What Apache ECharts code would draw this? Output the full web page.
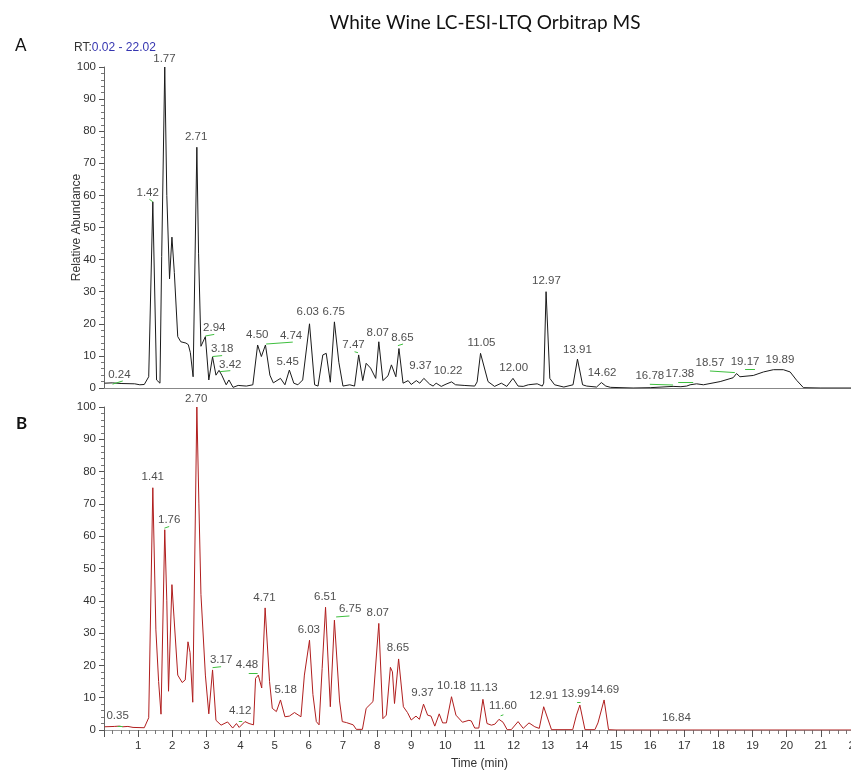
<!DOCTYPE html>
<html>
<head>
<meta charset="utf-8">
<title>White Wine LC-ESI-LTQ Orbitrap MS</title>
<script src="https://cdn.jsdelivr.net/npm/echarts@6/dist/echarts.min.js"></script>
<style>
  html, body { margin: 0; padding: 0; background: #fff; }
  #main { width: 851px; height: 771px; }
</style>
</head>
<body>
<div id="main"></div>
<script>
// chromatogram A (black trace): retention time (min) and relative abundance (%)
var timeA = [0.02, 0.24, 0.50, 0.90, 1.05, 1.18, 1.31, 1.43, 1.54, 1.64, 1.69, 1.78, 1.84, 1.92, 1.99, 2.06,
  2.16, 2.25, 2.40, 2.47, 2.53, 2.61, 2.72, 2.77, 2.84, 2.97, 3.07, 3.18, 3.28, 3.37, 3.45, 3.58, 3.66, 3.78,
  3.93, 4.17, 4.36, 4.50, 4.61, 4.73, 4.86, 4.96, 5.17, 5.30, 5.43, 5.56, 5.68, 5.82, 6.02, 6.17, 6.27, 6.41,
  6.51, 6.63, 6.75, 6.88, 7.00, 7.20, 7.34, 7.46, 7.58, 7.68, 7.81, 7.96, 8.05, 8.17, 8.32, 8.42, 8.55, 8.64,
  8.76, 8.91, 9.00, 9.15, 9.25, 9.37, 9.54, 9.64, 9.73, 9.88, 10.02, 10.18, 10.30, 10.55, 10.86, 10.93, 11.03,
  11.25, 11.44, 11.64, 11.80, 11.98, 12.13, 12.28, 12.43, 12.69, 12.84, 12.88, 12.95, 13.06, 13.20, 13.47,
  13.74, 13.87, 14.02, 14.14, 14.43, 14.57, 14.70, 14.84, 15.50, 16.00, 16.67, 16.90, 17.07, 17.17, 17.36,
  17.56, 18.05, 18.43, 18.53, 18.63, 19.02, 19.32, 19.61, 19.90, 20.10, 20.29, 20.49, 21.00, 22.00];
var valueA = [1.5, 1.6, 1.4, 1.3, 1.0, 1.1, 3.5, 58, 2.5, 1.5, 41, 100, 60, 34, 47, 36,
  16, 14.4, 14, 13.5, 11, 3.5, 75, 42, 13, 16, 2.5, 9.7, 4, 5.5, 4, 1, 2.5, 0.2,
  0.8, 0.6, 1, 13.4, 9.8, 13.4, 4, 1.6, 3, 1, 5.6, 1.5, 1, 2.5, 20, 1, 0.6, 10.3,
  10.8, 1.8, 20.6, 8, 0.6, 1, 0.6, 10.3, 2.3, 7.7, 6.2, 3, 14.4, 2.3, 3.8, 7.2, 3.5, 12.3,
  1.5, 2.3, 1.1, 2.3, 1.5, 3, 1.2, 0.6, 1.5, 0.5, 1.2, 1.9, 1, 0.8, 0.6, 1.9, 10.8,
  2, 0.5, 1.5, 0.5, 3, 0.6, 0.5, 1, 1.3, 0.6, 1.5, 30, 3, 1, 0.3,
  1, 9, 1, 0.6, 0.3, 1.7, 0.6, 0.2, 0, 0.1, 0.5, 0.4, 0.6, 1, 1.3,
  1, 2, 3.2, 4.5, 3.5, 3.9, 5, 5.7, 5.7, 5, 2.4, 0.1, 0, 0];

// chromatogram B (red trace)
var timeB = [0.02, 0.30, 0.45, 0.55, 0.70, 0.85, 1.18, 1.31, 1.43, 1.52, 1.60, 1.67, 1.78, 1.84, 1.89, 1.99,
  2.05, 2.16, 2.29, 2.38, 2.46, 2.52, 2.60, 2.72, 2.78, 2.84, 2.97, 3.07, 3.18, 3.28, 3.43, 3.62, 3.77, 3.88,
  3.96, 4.13, 4.25, 4.38, 4.44, 4.52, 4.62, 4.72, 4.85, 4.93, 5.05, 5.17, 5.30, 5.43, 5.58, 5.77, 5.87, 6.02,
  6.12, 6.22, 6.30, 6.39, 6.49, 6.63, 6.75, 6.90, 6.98, 7.10, 7.30, 7.39, 7.57, 7.68, 7.88, 8.05, 8.17, 8.27,
  8.39, 8.45, 8.51, 8.63, 8.77, 8.89, 9.00, 9.14, 9.24, 9.36, 9.48, 9.58, 9.69, 9.82, 9.92, 10.03, 10.18,
  10.31, 10.50, 10.69, 10.76, 10.86, 10.98, 11.10, 11.22, 11.35, 11.45, 11.57, 11.69, 11.81, 11.93, 12.13,
  12.28, 12.45, 12.62, 12.75, 12.88, 13.11, 13.73, 13.84, 13.94, 14.09, 14.38, 14.47, 14.65, 14.78, 15.00, 22.00];
var valueB = [1.0, 1.1, 1.2, 1.0, 1.1, 0.8, 0.7, 3.8, 75, 31, 15, 4.9, 62, 40, 12, 45,
  35, 17, 14.7, 15.5, 27.3, 24, 8.6, 100, 70, 42, 17, 5, 18.6, 3, 1.5, 2.5, 0.6, 2,
  0.8, 2.6, 2, 1.6, 16, 17, 13, 37.8, 15, 6.7, 5.7, 9.3, 4.1, 4.3, 5.4, 4.1, 17, 27.8,
  11, 2.6, 1.6, 19, 38, 7.2, 34, 9, 2.6, 2.3, 1.6, 0.2, 0.2, 6.7, 8.8, 33, 3.5, 4.6,
  19.4, 18, 8.2, 22, 7.2, 5.4, 3.1, 4.3, 3.3, 8, 4.6, 4.3, 1.2, 5, 2.2, 2.2, 10.3,
  4.6, 2.4, 3, 2.8, 0.6, 0.6, 9.5, 2, 1.5, 1.8, 3.3, 2.4, 0.1, 0.1, 2.6,
  0.5, 2.2, 1, 0.5, 7.2, 0.1, 0.1, 4.6, 7.7, 0.1, 0.1, 2.2, 9.3, 0.1, 0, 0];

// peak labels: text and the point (time, abundance) the label sits on
var peakTextA = ['0.24', '1.42', '1.77', '2.71', '2.94', '3.18', '3.42', '4.50', '4.74', '5.45', '6.03', '6.75',
  '7.47', '8.07', '8.65', '9.37', '10.22', '11.05', '12.00', '12.97', '13.91', '14.62', '16.78', '17.38',
  '18.57', '19.17', '19.89'];
var labelXA = [0.45, 1.28, 1.77, 2.70, 3.23, 3.46, 3.70, 4.49, 5.48, 5.38, 5.97, 6.73,
  7.31, 8.02, 8.74, 9.27, 10.08, 11.06, 12.00, 12.96, 13.87, 14.59, 15.99, 16.87, 17.75, 18.78, 19.80];
var labelYA = [2, 58.5, 100.5, 76, 16.5, 10, 5, 14.4, 14.1, 6.1, 21.4, 21.7,
  11.3, 15, 13.4, 4.6, 3.3, 12, 4, 31.2, 9.8, 2.7, 1.5, 2.2, 5.6, 6.1, 6.6];

var peakTextB = ['0.35', '1.41', '1.76', '2.70', '3.17', '4.12', '4.48', '4.71', '5.18', '6.03', '6.51', '6.75',
  '8.07', '8.65', '9.37', '10.18', '11.13', '11.60', '12.91', '13.99', '14.69', '16.84'];
var labelXB = [0.40, 1.43, 1.91, 2.70, 3.43, 3.99, 4.19, 4.70, 5.32, 6.00, 6.48, 7.21,
  8.02, 8.61, 9.33, 10.18, 11.12, 11.69, 12.88, 13.82, 14.67, 16.77];
var labelYB = [2.1, 76.1, 62.9, 100.5, 19.6, 3.9, 18, 38.7, 10.3, 28.9, 39.2, 35.3,
  34.2, 23.2, 9.3, 11.5, 10.8, 5.2, 8.5, 9, 10.3, 1.5];

// green leader lines from a peak to its shifted label: [t1, v1, t2, v2]
var leaderA = [[0.25, 1.2, 0.55, 2.2], [1.33, 58.8, 1.43, 58], [2.97, 16.2, 3.23, 16.7], [3.18, 9.8, 3.46, 10.1],
  [3.40, 5.1, 3.70, 5.4], [4.75, 13.7, 5.53, 14.3], [7.34, 11.3, 7.44, 11], [8.61, 13.2, 8.76, 13.7],
  [15.99, 1.15, 16.67, 0.93], [16.82, 1.8, 17.26, 1.8], [17.75, 5.3, 18.48, 4.8], [18.78, 5.8, 19.07, 5.8]];
var leaderB = [[0.40, 1.3, 0.55, 1.3], [1.77, 62.5, 1.91, 63], [3.18, 19.3, 3.43, 19.6], [3.95, 2.7, 4.05, 2.7],
  [4.24, 17.7, 4.50, 17.7], [6.80, 35, 7.19, 35.3], [11.62, 4.4, 11.70, 4.7], [13.86, 8.6, 13.96, 8.6]];

var labelFont = '"Liberation Sans", Arial, sans-serif';

function pairs(xs, ys) {
  var out = [];
  for (var i = 0; i < xs.length; i++) out.push([xs[i], ys[i]]);
  return out;
}
function labelData(texts, xs, ys) {
  var out = [];
  for (var i = 0; i < texts.length; i++) out.push([xs[i], ys[i], texts[i]]);
  return out;
}
function leaderData(list) {
  return list.map(function (l) {
    return [{ coord: [l[0], l[1]] }, { coord: [l[2], l[3]] }];
  });
}

function yAxisFor(idx, name) {
  return {
    type: 'value', gridIndex: idx, min: 0, max: 100, interval: 10,
    name: name, nameLocation: 'middle', nameGap: 21, nameMoveOverlap: false,
    nameTextStyle: { fontFamily: labelFont, fontSize: 12, color: '#333' },
    axisLine: { show: true, lineStyle: { color: '#666', width: 1 } },
    axisTick: { show: true, length: 5, lineStyle: { color: '#555' } },
    minorTick: { show: true, splitNumber: 5, length: 3, lineStyle: { color: '#777' } },
    axisLabel: { fontFamily: labelFont, fontSize: 11.5, color: '#333', margin: 8 },
    splitLine: { show: false }
  };
}

function labelSeries(idx, texts, xs, ys, leaders) {
  return {
    type: 'scatter', xAxisIndex: idx, yAxisIndex: idx,
    symbolSize: 0, silent: true, z: 5, clip: false,
    data: labelData(texts, xs, ys),
    label: {
      show: true, position: 'top', distance: 1,
      formatter: function (p) { return p.value[2]; },
      fontFamily: labelFont, fontSize: 11.5, color: '#222'
    },
    markLine: {
      silent: true, symbol: 'none', animation: false,
      label: { show: false },
      lineStyle: { color: '#3fbf3f', width: 1, type: 'solid' },
      data: leaderData(leaders)
    }
  };
}

var chart = echarts.init(document.getElementById('main'), null, { renderer: 'canvas' });
chart.setOption({
  animation: false,
  backgroundColor: '#fff',
  title: [{
    text: 'White Wine LC-ESI-LTQ Orbitrap MS',
    left: 480, top: 8, textAlign: 'center',
    textStyle: { fontFamily: 'Lato, "Open Sans", sans-serif', fontSize: 19, fontWeight: 'normal', color: '#111' }
  }, {
    text: '{k|RT:}{v|0.02 - 22.02}',
    left: 69, top: 37,
    textStyle: {
      fontWeight: 'normal',
      rich: {
        k: { fontFamily: labelFont, fontSize: 12, fontWeight: 'normal', color: '#333' },
        v: { fontFamily: labelFont, fontSize: 12, fontWeight: 'normal', color: '#3535b0' }
      }
    }
  }],
  graphic: [
    { type: 'text', left: 15, top: 37, style: { text: 'A', font: '17px Lato, sans-serif', fill: '#111' } },
    { type: 'text', left: 16, top: 415, style: { text: 'B', font: 'bold 17px Lato, sans-serif', fill: '#111' } }
  ],
  grid: [
    { left: 104, right: -4, top: 67, bottom: 383, outerBoundsMode: 'none', containLabel: false },
    { left: 104, right: -4, top: 407, bottom: 41, outerBoundsMode: 'none', containLabel: false }
  ],
  xAxis: [{
    type: 'value', gridIndex: 0, min: 0, max: 22, interval: 1,
    axisLine: { show: true, onZero: false, lineStyle: { color: '#888', width: 1 } },
    axisTick: { show: false }, axisLabel: { show: false }, splitLine: { show: false }
  }, {
    type: 'value', gridIndex: 1, min: 0, max: 22, interval: 1,
    name: 'Time (min)', nameLocation: 'middle', nameGap: 28, nameMoveOverlap: false,
    nameTextStyle: { fontFamily: labelFont, fontSize: 12, color: '#333' },
    axisLine: { show: true, onZero: false, lineStyle: { color: '#999', width: 1 } },
    axisTick: { show: true, length: 7, lineStyle: { color: '#555' } },
    minorTick: { show: true, splitNumber: 4, length: 4, lineStyle: { color: '#777' } },
    axisLabel: { showMinLabel: false, fontFamily: labelFont, fontSize: 11.5, color: '#333', margin: 10 },
    splitLine: { show: false }
  }],
  yAxis: [yAxisFor(0, 'Relative Abundance'), yAxisFor(1, '')],
  series: [{
    type: 'line', xAxisIndex: 0, yAxisIndex: 0,
    data: pairs(timeA, valueA), showSymbol: false, symbol: 'none',
    lineStyle: { color: '#1a1a1a', width: 1 }, z: 3
  }, {
    type: 'line', xAxisIndex: 1, yAxisIndex: 1,
    data: pairs(timeB, valueB), showSymbol: false, symbol: 'none',
    lineStyle: { color: '#b01e1e', width: 1 }, z: 3
  },
    labelSeries(0, peakTextA, labelXA, labelYA, leaderA),
    labelSeries(1, peakTextB, labelXB, labelYB, leaderB)
  ]
});
</script>
</body>
</html>
